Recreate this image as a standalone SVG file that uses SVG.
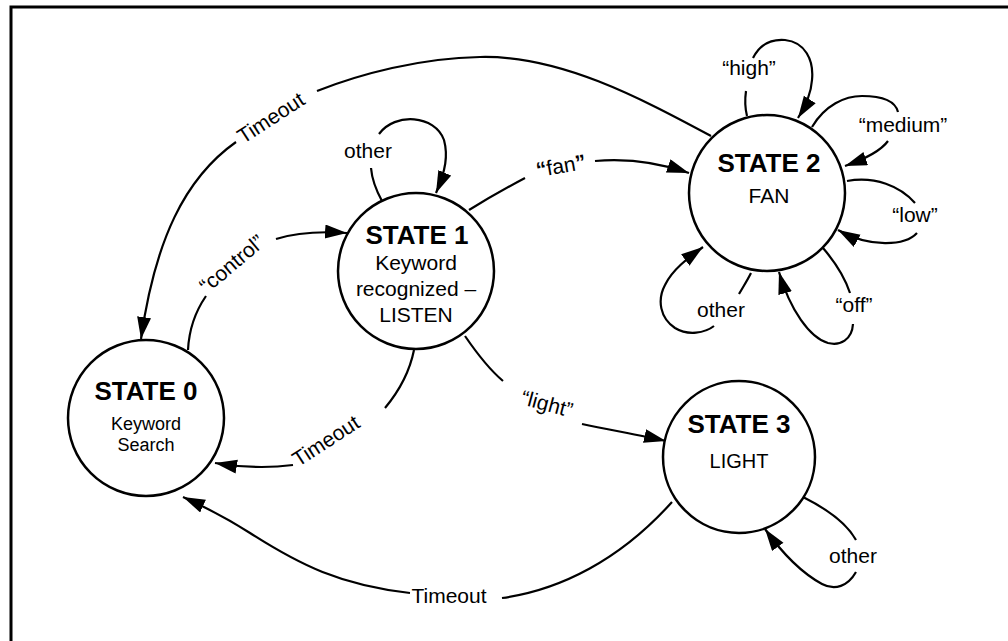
<svg xmlns="http://www.w3.org/2000/svg" width="1008" height="641" viewBox="0 0 1008 641">
<defs>
<style>
.st{fill:#fff;stroke:#000;stroke-width:2.5}
.c{fill:none;stroke:#000;stroke-width:2.2}
.t{font-family:"Liberation Sans",Arial,sans-serif;fill:#000;text-anchor:middle}
.h{font-weight:bold;font-size:26px}
.l{font-size:21px}
</style>
<marker id="ah" markerUnits="userSpaceOnUse" markerWidth="24" markerHeight="16" refX="22" refY="7" orient="auto">
<path d="M0,0 L22,7 L0,14 z" fill="#000"/>
</marker>
</defs>
<rect width="1008" height="641" fill="#fff"/>
<rect x="11" y="7" width="1100" height="700" fill="none" stroke="#000" stroke-width="3"/>

<g id="connectors">
<!-- Timeout: state2 -> state0 (top) -->
<path class="c" d="M711,136 C640,98 560,55 480,57 C420,58 360,74 317,91"/>
<path class="c" marker-end="url(#ah)" d="M236,142 C185,178 155,240 141,339"/>
<text class="t l" transform="translate(271,118) rotate(-33)" x="0" y="7">Timeout</text>
<!-- control: state0 -> state1 -->
<path class="c" d="M188,350 C189,330 195,312 206,296"/>
<path class="c" marker-end="url(#ah)" d="M276,239 C295,233 318,231 347,233"/>
<text class="t l" transform="translate(232,264) rotate(-40)" x="0" y="7">“control”</text>
<!-- other loop on state1 -->
<path class="c" d="M382,201 C376,190 372,180 371,168"/>
<path class="c" marker-end="url(#ah)" d="M379,134 C395,112 435,115 444,140 C448,155 446,170 436,193"/>
<text class="t l" x="368" y="158">other</text>
<!-- fan: state1 -> state2 -->
<path class="c" d="M469,210 C490,197 508,187 525,178"/>
<path class="c" marker-end="url(#ah)" d="M595,161 C630,158 660,163 689,173"/>
<text class="t l" transform="translate(561,166) rotate(-10)" x="0" y="7"><tspan font-weight="bold">“</tspan>fan<tspan font-weight="bold">”</tspan></text>
<!-- light: state1 -> state3 -->
<path class="c" d="M465,336 C478,355 490,370 503,381"/>
<path class="c" marker-end="url(#ah)" d="M582,424 C610,430 640,435 666,441"/>
<text class="t l" transform="translate(547,404) rotate(15)" x="0" y="7">“light”</text>
<!-- Timeout: state1 -> state0 -->
<path class="c" d="M414,350 C410,370 400,390 385,408"/>
<path class="c" marker-end="url(#ah)" d="M293,465 C270,468 245,468 215,463"/>
<text class="t l" transform="translate(326,441) rotate(-33)" x="0" y="7">Timeout</text>
<!-- Timeout: state3 -> state0 (bottom) -->
<path class="c" d="M672,502 C620,560 560,590 502,598"/>
<path class="c" marker-end="url(#ah)" d="M410,593 C340,585 300,565 250,533 C225,517 205,507 183,497"/>
<text class="t l" x="449" y="603">Timeout</text>
<!-- other loop on state3 -->
<path class="c" d="M803,497 C825,508 846,522 856,540"/>
<path class="c" marker-end="url(#ah)" d="M856,572 C848,586 835,591 822,584 C800,572 780,550 765,529"/>
<text class="t l" x="853" y="563">other</text>
<!-- high loop on state2 -->
<path class="c" d="M747,116 C745,108 745,98 746,91"/>
<path class="c" marker-end="url(#ah)" d="M753,58 C760,44 772,39 785,40 C805,42 814,60 812,80 C811,95 805,107 798,118"/>
<text class="t l" x="749" y="75">“high”</text>
<!-- medium loop -->
<path class="c" d="M812,127 C825,105 845,96 862,96 C880,96 895,100 898,112"/>
<path class="c" marker-end="url(#ah)" d="M888,141 C880,152 862,160 845,166"/>
<text class="t l" x="903" y="132">“medium”</text>
<!-- low loop -->
<path class="c" d="M847,181 C875,176 900,186 915,203"/>
<path class="c" marker-end="url(#ah)" d="M917,233 C905,246 870,248 838,230"/>
<text class="t l" x="915" y="222">“low”</text>
<!-- off loop -->
<path class="c" d="M823,248 C835,262 845,278 850,293"/>
<path class="c" marker-end="url(#ah)" d="M853,324 C852,340 840,346 828,343 C810,338 790,310 779,272"/>
<text class="t l" x="854" y="312">“off”</text>
<!-- other loop on state2 -->
<path class="c" d="M751,273 C747,281 743,287 739,294"/>
<path class="c" marker-end="url(#ah)" d="M714,326 C705,333 688,336 675,328 C660,318 657,300 665,285 C672,270 688,258 703,247"/>
<text class="t l" x="721" y="317">other</text>
</g>

<g id="state0">
<circle class="st" cx="146" cy="418" r="78"/>
<text class="t h" x="146" y="400">STATE 0</text>
<text class="t" font-size="18" x="146" y="430">Keyword</text>
<text class="t" font-size="18" x="146" y="451">Search</text>
</g>
<g id="state1">
<circle class="st" cx="416" cy="271" r="78"/>
<text class="t h" x="417" y="244">STATE 1</text>
<text class="t l" x="416" y="270">Keyword</text>
<text class="t l" x="416" y="296">recognized –</text>
<text class="t l" x="416" y="322">LISTEN</text>
</g>
<g id="state2">
<circle class="st" cx="767" cy="193" r="78"/>
<text class="t h" x="769" y="172">STATE 2</text>
<text class="t l" x="769" y="203">FAN</text>
</g>
<g id="state3">
<circle class="st" cx="739" cy="457" r="76"/>
<text class="t h" font-size="25" x="739" y="433">STATE 3</text>
<text class="t" font-size="20" x="739" y="468">LIGHT</text>
</g>
</svg>
